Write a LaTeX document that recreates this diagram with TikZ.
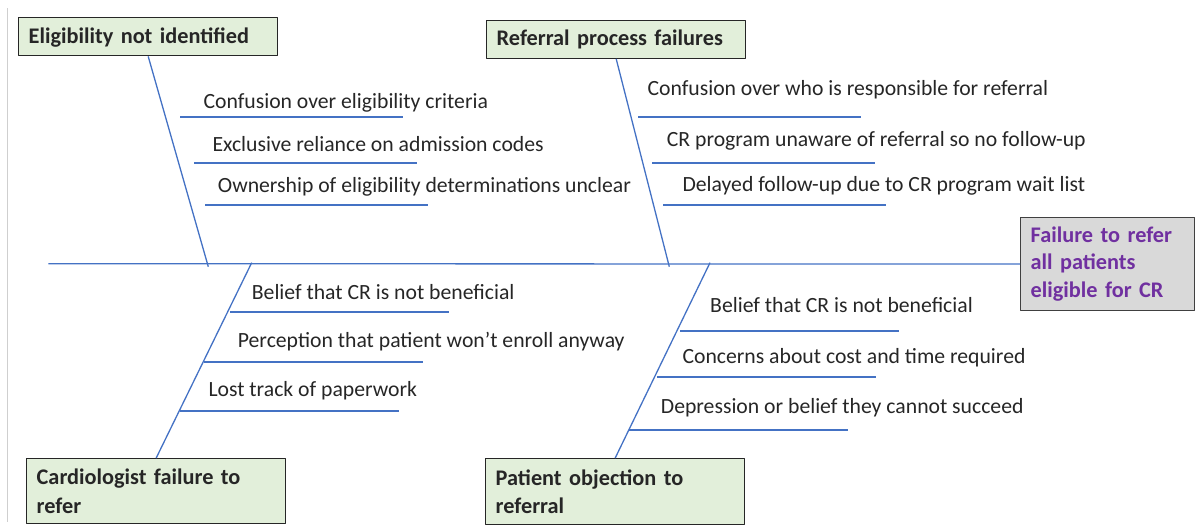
\documentclass[tikz,border=0pt]{standalone}
\usepackage{fontspec}
\setmainfont{Carlito}
\definecolor{bonecol}{HTML}{4472C4}
\definecolor{catfill}{HTML}{E2EFDA}
\definecolor{efffill}{HTML}{D9D9D9}
\definecolor{effpurple}{HTML}{7030A0}
\definecolor{txt}{HTML}{262626}
\definecolor{framecol}{HTML}{CFCFCF}
\newcommand\catfont{\fontsize{22.3}{28.4}\selectfont\bfseries\spaceskip .2em\relax}
\newcommand\efffont{\fontsize{22.3}{27.8}\selectfont\bfseries\spaceskip .2em\relax}
\begin{document}
\begin{tikzpicture}[x=1pt,y=-1pt,line join=round,
  bone/.style={draw=bonecol,line width=1.3pt},
  cat/.style={draw=black!85,line width=1.4pt,fill=catfill,anchor=north west,
    inner xsep=10pt,inner ysep=0pt,text width=239pt,align=left,text=txt,
    font=\catfont},
  cause/.style={anchor=base west,inner sep=0pt,text=txt,
    font=\fontsize{21.7}{26}\selectfont}]
\useasboundingbox (0,0) rectangle (1195,525);
\draw[framecol,line width=1pt] (7,8) -- (7,522);
% effect and categories
\node[draw=black!75,line width=1.4pt,fill=efffill,anchor=north west,inner xsep=10pt,
  inner ysep=0pt,text width=154pt,minimum height=93.3pt,align=left,text=effpurple,
  font=\efffont] (eff) at (1020,216.7)
  {Failure to refer\\all patients\\eligible for CR};
\node[cat,minimum height=38pt,text depth=3pt] (elig) at (18,17) {Eligibility not identified};
\node[cat,minimum height=37.5pt,text depth=3pt] (refproc) at (486,20) {Referral process failures};
\node[cat,minimum height=65pt] (cardio) at (26,458) {Cardiologist failure to\\refer};
\node[cat,minimum height=65.5pt] (patobj) at (485,458) {Patient objection to\\referral};
% spine and bones
\coordinate (tail) at (48.3,263.7);
\coordinate (j1) at (208.3,266.7);
\coordinate (j2) at (669.3,266.7);
\coordinate (j3) at (251.7,262.7);
\coordinate (j4) at (710,262.7);
\draw[bone] (tail) -- (eff.west);
\draw[bone] (elig.south) -- (j1);
\draw[bone] (refproc.south) -- (j2);
\draw[bone] (cardio.north) -- (j3);
\draw[bone] (patobj.north) -- (j4);
% causes
\node[cause] (e1) at (203.3,108.3) {Confusion over eligibility criteria};
\node[cause] (e2) at (212.3,151.7) {Exclusive reliance on admission codes};
\node[cause] (e3) at (217.7,192.7) {Ownership of eligibility determinations unclear};
\node[cause] (r1) at (647.3,95.7) {Confusion over who is responsible for referral};
\node[cause] (r2) at (666.7,146.7) {CR program unaware of referral so no follow-up};
\node[cause] (r3) at (682.3,191.7) {Delayed follow-up due to CR program wait list};
\node[cause] (c1) at (251.7,299.3) {Belief that CR is not beneficial};
\node[cause] (c2) at (237.7,347.7) {Perception that patient won’t enroll anyway};
\node[cause] (c3) at (208.3,396.7) {Lost track of paperwork};
\node[cause] (p1) at (710,312.3) {Belief that CR is not beneficial};
\node[cause] (p2) at (682.3,363.3) {Concerns about cost and time required};
\node[cause] (p3) at (660.7,413.3) {Depression or belief they cannot succeed};
\foreach \x/\y in {180/117,194/163,205/205,638.3/117,652.3/163,663.3/205}
  \draw[bone] (\x,\y) -- ++(222.5,0);
\foreach \x/\y in {230/312,204/362,180/411,680/331,657.3/377,629/430}
  \draw[bone] (\x,\y) -- ++(218.5,0);
\end{tikzpicture}
\end{document}
